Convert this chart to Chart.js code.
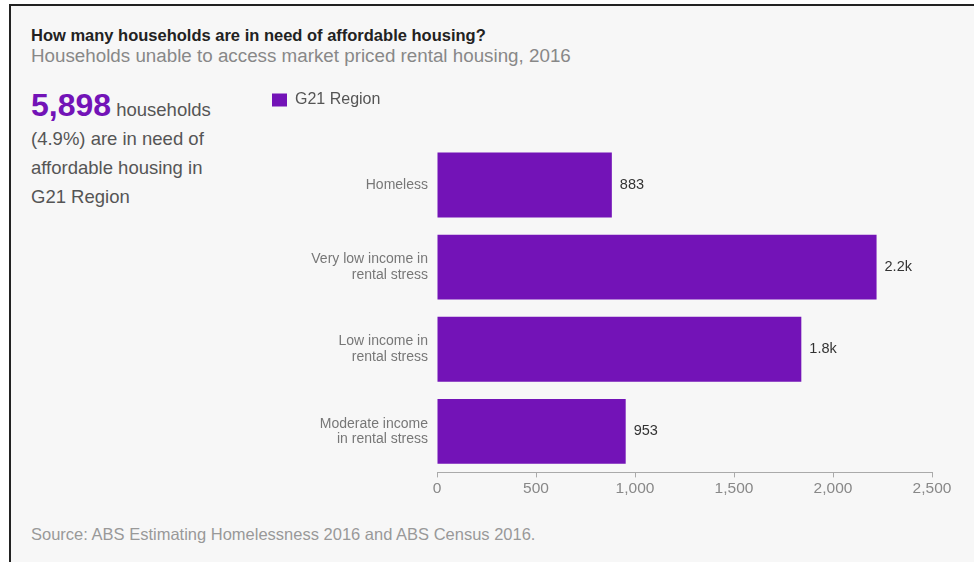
<!DOCTYPE html>
<html>
<head>
<meta charset="utf-8">
<script src="https://cdn.jsdelivr.net/npm/chart.js@4"></script>
<style>
  html, body { margin: 0; padding: 0; background: #fff; }
  body { width: 974px; height: 562px; position: relative; overflow: hidden; font-family: Arial, "Liberation Sans", sans-serif; }
  .card { position: absolute; left: 9px; top: 4px; width: 980px; height: 570px; background: #f7f7f7; border-top: 2px solid #222; border-left: 2px solid #222; }
  .title { position: absolute; left: 31px; top: 26px; font-size: 16.5px; font-weight: bold; color: #222; white-space: nowrap; }
  .sub { position: absolute; left: 31px; top: 45px; font-size: 18.8px; color: #888; white-space: nowrap; }
  .note { position: absolute; left: 31px; top: 91px; font-size: 18.5px; line-height: 29px; color: #555; white-space: nowrap; }
  .note b { font-size: 32px; line-height: 29px; color: #7313b7; }
  .src { position: absolute; left: 31px; top: 525px; font-size: 16.5px; color: #999; white-space: nowrap; }
  .wrap { position: absolute; left: 254px; top: 82px; width: 708px; height: 418px; }
</style>
</head>
<body>
<div class="card"></div>
<div class="title">How many households are in need of affordable housing?</div>
<div class="sub">Households unable to access market priced rental housing, 2016</div>
<div class="note"><b>5,898</b> households<br>(4.9%) are in need of<br>affordable housing in<br>G21 Region</div>
<div class="src">Source: ABS Estimating Homelessness 2016 and ABS Census 2016.</div>
<div class="wrap"><canvas id="c"></canvas></div>
<script>
/* ---- DATA --------------------------------------------------- */
const categories = [
  ['Homeless'],
  ['Very low income in', 'rental stress'],
  ['Low income in', 'rental stress'],
  ['Moderate income', 'in rental stress']
];
const seriesName = 'G21 Region';
const households = [883, 2220, 1840, 953];
const xTicks = [0, 500, 1000, 1500, 2000, 2500];

const PURPLE = '#7313b7';
const FONT = 'Arial, "Liberation Sans", sans-serif';

/* ---- VALUE LABELS ------------------------------------------- */
function fmt(v) {
  return v >= 1000 ? (v / 1000).toFixed(1) + 'k' : String(v);
}

const valueLabels = {
  id: 'valueLabels',
  afterDatasetsDraw(chart) {
    const ctx = chart.ctx;
    const meta = chart.getDatasetMeta(0);
    ctx.save();
    ctx.font = '14.5px ' + FONT;
    ctx.fillStyle = '#333';
    ctx.textAlign = 'left';
    ctx.textBaseline = 'middle';
    meta.data.forEach((bar, i) => {
      ctx.fillText(fmt(households[i]), bar.x + 8, bar.y);
    });
    ctx.restore();
  }
};

// extra room between legend and bars
const legendGap = {
  id: 'legendGap',
  beforeInit(chart) {
    const fit = chart.legend.fit;
    chart.legend.fit = function () {
      fit.bind(chart.legend)();
      this.height += 26;
    };
  }
};

/* ---- CHART -------------------------------------------------- */
new Chart(document.getElementById('c'), {
  type: 'bar',
  data: {
    labels: categories,
    datasets: [{
      label: seriesName,
      data: households,
      backgroundColor: PURPLE,
      borderWidth: 0,
      categoryPercentage: 1,
      barPercentage: 0.79
    }]
  },
  plugins: [valueLabels, legendGap],
  options: {
    indexAxis: 'y',
    responsive: true,
    maintainAspectRatio: false,
    animation: false,
    layout: { padding: { left: 8, right: 30, top: 0, bottom: 0 } },
    plugins: {
      legend: {
        position: 'top',
        align: 'start',
        labels: {
          boxWidth: 15,
          boxHeight: 13,
          color: '#555',
          font: { size: 16, family: FONT },
          padding: 10
        }
      },
      tooltip: { enabled: false }
    },
    scales: {
      x: {
        min: 0,
        max: 2500,
        afterBuildTicks(scale) { scale.ticks = xTicks.map(v => ({ value: v })); },
        grid: { drawOnChartArea: false, drawTicks: true, tickLength: 5, color: '#aaa' },
        border: { display: true, color: '#aaa', width: 1 },
        ticks: {
          color: '#888',
          padding: 2,
          font: { size: 15.5, family: FONT },
          callback: v => v.toLocaleString('en-US')
        }
      },
      y: {
        afterFit(scale) { scale.width = 175; },
        grid: { display: false, drawTicks: false },
        border: { display: false },
        ticks: {
          color: '#777',
          padding: 9,
          font: { size: 14, family: FONT, lineHeight: 1.1 }
        }
      }
    }
  }
});
</script>
</body>
</html>
